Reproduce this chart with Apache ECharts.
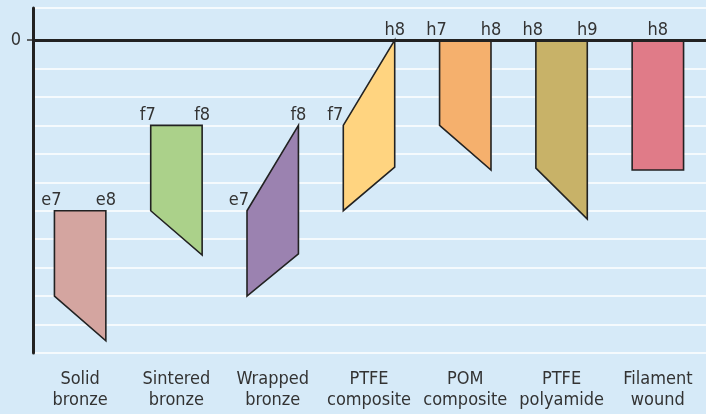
<!DOCTYPE html>
<html>
<head>
<meta charset="utf-8">
<script src="https://cdn.jsdelivr.net/npm/echarts@6/dist/echarts.min.js"></script>
<style>
html,body{margin:0;padding:0;background:#d6eaf8;}
#c{width:706px;height:414px;}
</style>
</head>
<body>
<div id="c"></div>
<script>
const categories = ['Solid\nbronze', 'Sintered\nbronze', 'Wrapped\nbronze', 'PTFE\ncomposite', 'POM\ncomposite', 'PTFE\npolyamide', 'Filament\nwound'];
const leftTop     = [-6,    -3,    -6,    -3,    0,     0,     0];
const leftBottom  = [-9,    -6,    -9,    -6,    -3,    -4.5,  -4.57];
const rightTop    = [-6,    -3,    -3,    0,     0,     0,     0];
const rightBottom = [-10.57, -7.56, -7.52, -4.47, -4.57, -6.29, -4.57];
const labelLeft   = ['e7', 'f7', 'e7', 'f7', 'h7', 'h8', ''];
const labelRight  = ['e8', 'f8', 'f8', 'h8', 'h8', 'h9', ''];
const labelCenter = ['', '', '', '', '', '', 'h8'];
const fills = ['#d4a5a0', '#abd18a', '#9b82b0', '#ffd480', '#f5b06d', '#c8b268', '#e07b88'];
const yTickLabels = ['0'];

const data = categories.map((c, i) => [i, leftTop[i], leftBottom[i], rightTop[i], rightBottom[i]]);

const FONT = '"DejaVu Sans Condensed", sans-serif';
const FS = 18;
const splitColors = [];
for (let k = 0; k < 14; k++) splitColors.push(k === 12 ? 'rgba(0,0,0,0)' : '#ffffff');

function renderItem(params, api) {
  const i = api.value(0);
  const band = api.size([1, 0])[0];
  const hw = band * 0.267;
  const cx = api.coord([i, 0])[0];
  const yLT = api.coord([i, api.value(1)])[1];
  const yLB = api.coord([i, api.value(2)])[1];
  const yRT = api.coord([i, api.value(3)])[1];
  const yRB = api.coord([i, api.value(4)])[1];
  const children = [{
    type: 'polygon',
    shape: { points: [[cx - hw, yLT], [cx + hw, yRT], [cx + hw, yRB], [cx - hw, yLB]] },
    style: { fill: fills[i], stroke: '#222', lineWidth: 1.6, lineJoin: 'miter' }
  }];
  const txt = (t, x, y) => ({
    type: 'text',
    style: { text: t, x: x, y: y, align: 'center', verticalAlign: 'bottom', fill: '#333', fontSize: FS, fontFamily: FONT }
  });
  if (labelLeft[i]) {
    const shift = api.value(1) < api.value(3) ? -8 : -3;
    children.push(txt(labelLeft[i], cx - hw + shift, yLT - 1));
  }
  if (labelRight[i]) children.push(txt(labelRight[i], cx + hw, yRT - 1));
  if (labelCenter[i]) children.push(txt(labelCenter[i], cx, Math.min(yLT, yRT) - 1));
  return { type: 'group', children: children };
}

const chart = echarts.init(document.getElementById('c'), null, { renderer: 'canvas' });
chart.setOption({
  backgroundColor: '#d6eaf8',
  animation: false,
  grid: { left: 32, right: -7, top: 8, bottom: 61, containLabel: false },
  xAxis: {
    type: 'category',
    data: categories,
    boundaryGap: true,
    axisLine: { show: false },
    axisTick: { show: false },
    splitLine: { show: false },
    axisLabel: { color: '#333', fontSize: FS, fontFamily: FONT, lineHeight: 21, margin: 16, interval: 0 }
  },
  yAxis: [{
    type: 'value',
    min: -11,
    max: 1.125,
    interval: 1,
    offset: -1,
    axisLine: { show: true, lineStyle: { color: '#222', width: 3 } },
    axisTick: { show: false },
    axisLabel: { show: false },
    splitLine: { show: true, lineStyle: { color: splitColors, width: 1.5 } }
  }, {
    type: 'value',
    min: -11,
    max: 1.125,
    interval: 1,
    position: 'left',
    offset: -1,
    axisLine: { show: false },
    axisTick: { show: true, customValues: [0], length: 6, lineStyle: { color: '#333', width: 1.5 } },
    axisLabel: { show: true, customValues: [0], formatter: () => yTickLabels[0], color: '#333', fontSize: FS, fontFamily: FONT, margin: 12 },
    splitLine: { show: false }
  }],
  series: [{
    type: 'custom',
    renderItem: renderItem,
    data: data,
    encode: { x: 0, y: [1, 2, 3, 4] },
    clip: false,
    markLine: {
      silent: true,
      symbol: 'none',
      label: { show: false },
      lineStyle: { color: '#222', width: 3, type: 'solid' },
      data: [{ yAxis: 0 }]
    }
  }]
});
</script>
</body>
</html>
